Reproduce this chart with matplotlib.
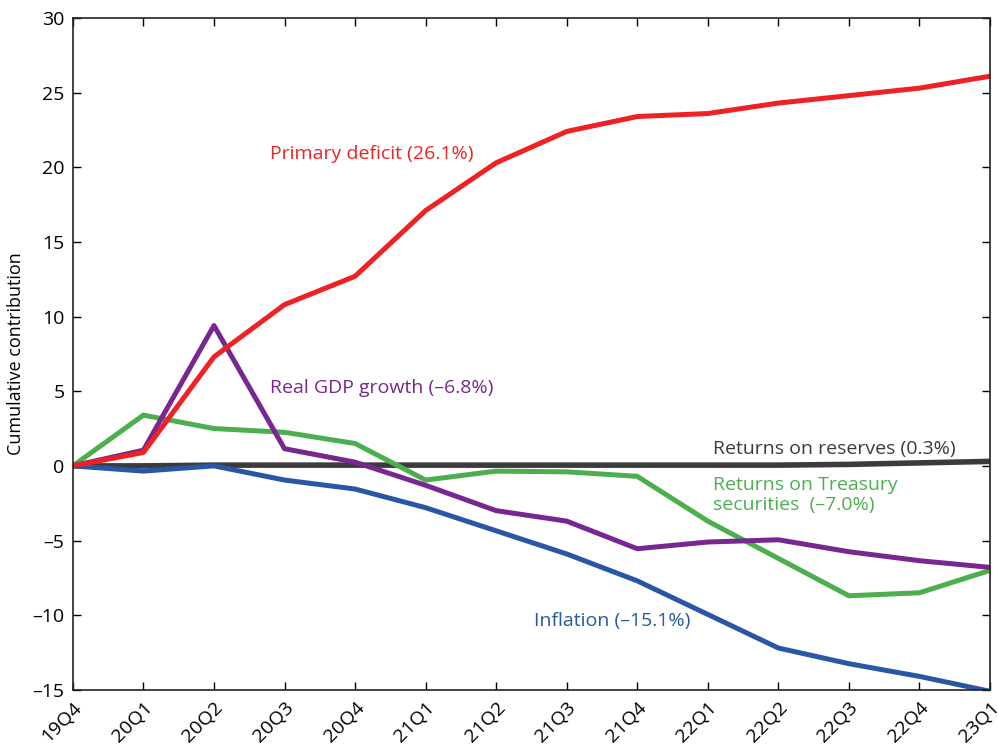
import numpy as np
import matplotlib
matplotlib.use("Agg")
import matplotlib.pyplot as plt

plt.rcParams['font.family'] = ['Open Sans', 'DejaVu Sans']

# quarters and series (cumulative contribution, percentage points)
quarters = ['19Q4', '20Q1', '20Q2', '20Q3', '20Q4', '21Q1', '21Q2', '21Q3',
            '21Q4', '22Q1', '22Q2', '22Q3', '22Q4', '23Q1']
primary_deficit = [0, 0.9, 7.3, 10.8, 12.7, 17.1, 20.3, 22.4, 23.4, 23.6, 24.3, 24.8, 25.3, 26.1]
real_gdp = [0, 1.05, 9.4, 1.15, 0.25, -1.3, -3.0, -3.7, -5.55, -5.1, -4.95, -5.75, -6.35, -6.8]
treasury = [0, 3.4, 2.5, 2.25, 1.5, -0.95, -0.35, -0.4, -0.7, -3.7, -6.2, -8.7, -8.5, -7.0]
inflation = [0, -0.35, 0, -0.95, -1.55, -2.8, -4.35, -5.9, -7.7, -9.95, -12.2, -13.25, -14.1, -15.1]
reserves = [0, 0, 0.05, 0.05, 0.05, 0.05, 0.05, 0.05, 0.05, 0.05, 0.05, 0.1, 0.2, 0.3]

x = np.arange(len(quarters))

fig = plt.figure(figsize=(9.98, 7.49), dpi=100)
ax = fig.add_axes([0.073, 0.079, 0.919, 0.897])

lw = 3.6
ax.plot(x, reserves, color='#3b3b3b', lw=4, solid_capstyle='butt')
ax.plot(x, inflation, color='#2957a6', lw=lw, solid_capstyle='butt')
ax.plot(x, treasury, color='#4cae4c', lw=lw, solid_capstyle='butt')
ax.plot(x, real_gdp, color='#77278f', lw=lw, solid_capstyle='butt')
ax.plot(x, primary_deficit, color='#ee2124', lw=lw, solid_capstyle='butt')

fs = 14
ax.text(2.79, 20.9, 'Primary deficit (26.1%)', color='#ee2124', fontsize=fs, va='center')
ax.text(2.79, 5.2, 'Real GDP growth (–6.8%)', color='#77278f', fontsize=fs, va='center')
ax.text(9.07, 1.15, 'Returns on reserves (0.3%)', color='#3b3b3b', fontsize=fs, va='center')
ax.text(9.07, -1.95, 'Returns on Treasury\nsecurities  (–7.0%)', color='#4cae4c', fontsize=fs,
        va='center', linespacing=1.15)
ax.text(6.54, -10.4, 'Inflation (–15.1%)', color='#2957a6', fontsize=fs, va='center')

ax.set_xlim(0, len(quarters) - 1)
ax.set_ylim(-15, 30)
ax.set_yticks(np.arange(-15, 31, 5))
ax.set_yticklabels([str(v).replace('-', '–') for v in range(-15, 31, 5)])
ax.set_xticks(x)
ax.set_xticklabels(quarters, rotation=45, ha='right', rotation_mode='anchor')
ax.tick_params(direction='in', length=6, width=1, labelsize=14, top=True, right=True,
               pad=6)
ax.set_ylabel('Cumulative contribution', fontsize=13)
ax.yaxis.set_label_coords(-0.052, 0.5)

for s in ax.spines.values():
    s.set_linewidth(1.2)
    s.set_color('#222222')

fig.savefig('out.png', dpi=100)
